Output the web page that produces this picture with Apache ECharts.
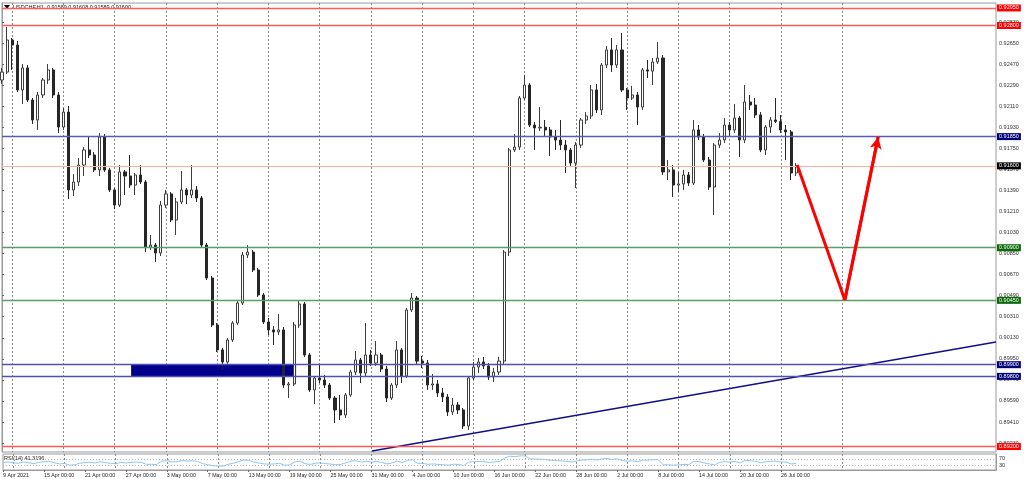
<!DOCTYPE html>
<html><head><meta charset="utf-8">
<script src="https://cdn.jsdelivr.net/npm/echarts@6/dist/echarts.min.js"></script>
<style>html,body{margin:0;padding:0;background:#fff}#c{width:1024px;height:479px}</style>
</head><body><div id="c"></div>
<script>
// ---------- DATA ----------
const chartTitle = 'USDCHF,H1  0.91589 0.91608 0.91589 0.91600';
const rsiTitle = 'RSI(14) 41.3196';
// time-axis labels (every 4 trading days)
const xLabels = ['9 Apr 2021','15 Apr 00:00','21 Apr 00:00','27 Apr 00:00','3 May 00:00','7 May 00:00','13 May 00:00','19 May 00:00','25 May 00:00','31 May 00:00','4 Jun 00:00','10 Jun 00:00','16 Jun 00:00','22 Jun 00:00','28 Jun 00:00','2 Jul 00:00','8 Jul 00:00','14 Jul 00:00','20 Jul 00:00','26 Jul 00:00'];
const barsPerLabel = 8;          // half-day bars between labels
const totalSlots = 195;          // bars incl. empty future space
const weekStarts = [2,12,22,32,42,52,62,72,82,92,102,112,122,132,142,152,164];
// half-day candles: [open, close, low, high]
const candles = [
[0.92334,0.92402,0.92300,0.92437],[0.92402,0.92676,0.92385,0.92787],[0.92676,0.92633,0.92420,0.92693],[0.92633,0.92249,0.92231,0.92667],
[0.92249,0.92437,0.92129,0.92471],[0.92437,0.92163,0.92146,0.92462],[0.92163,0.91992,0.91958,0.92180],[0.91992,0.92206,0.91907,0.92231],
[0.92206,0.92334,0.92180,0.92351],[0.92334,0.92420,0.92300,0.92471],[0.92420,0.92206,0.92180,0.92437],[0.92206,0.91932,0.91881,0.92231],
[0.91932,0.92060,0.91907,0.92095],[0.92060,0.91394,0.91317,0.92112],[0.91394,0.91462,0.91342,0.91530],[0.91462,0.91607,0.91428,0.91667],
[0.91607,0.91736,0.91513,0.91761],[0.91736,0.91693,0.91667,0.91847],[0.91693,0.91565,0.91548,0.91718],[0.91565,0.91847,0.91513,0.91881],
[0.91847,0.91565,0.91548,0.91872],[0.91565,0.91394,0.91376,0.91582],[0.91394,0.91265,0.91231,0.91411],[0.91265,0.91548,0.91248,0.91607],
[0.91548,0.91513,0.91351,0.91565],[0.91513,0.91436,0.91411,0.91693],[0.91436,0.91522,0.91351,0.91539],[0.91522,0.91462,0.91445,0.91607],
[0.91462,0.90906,0.90863,0.91479],[0.90906,0.90923,0.90880,0.91009],[0.90923,0.90855,0.90778,0.90940],[0.90855,0.91265,0.90829,0.91299],
[0.91265,0.91360,0.91240,0.91394],[0.91360,0.91137,0.91120,0.91376],[0.91137,0.91291,0.91009,0.91325],[0.91291,0.91394,0.91274,0.91556],
[0.91394,0.91351,0.91274,0.91411],[0.91351,0.91394,0.91325,0.91607],[0.91394,0.91325,0.91291,0.91428],[0.91325,0.90923,0.90906,0.91342],
[0.90923,0.90641,0.90624,0.90940],[0.90641,0.90239,0.90222,0.90658],[0.90239,0.90026,0.90008,0.90256],[0.90026,0.89923,0.89855,0.90043],
[0.89923,0.90111,0.89906,0.90128],[0.90111,0.90256,0.90094,0.90273],[0.90256,0.90427,0.90239,0.90444],[0.90427,0.90838,0.90410,0.90863],
[0.90838,0.90863,0.90812,0.90923],[0.90863,0.90710,0.90692,0.90880],[0.90710,0.90496,0.90479,0.90727],[0.90496,0.90265,0.90248,0.90513],
[0.90265,0.90197,0.90154,0.90299],[0.90197,0.90180,0.90068,0.90231],[0.90180,0.90197,0.90154,0.90333],[0.90197,0.89726,0.89701,0.90222],
[0.89726,0.89735,0.89615,0.89752],[0.89735,0.90239,0.89718,0.90265],[0.90239,0.90419,0.90214,0.90453],[0.90419,0.89983,0.89966,0.90436],
[0.89983,0.89684,0.89667,0.90000],[0.89684,0.89786,0.89564,0.89803],[0.89786,0.89769,0.89743,0.89906],[0.89769,0.89726,0.89701,0.89812],
[0.89726,0.89615,0.89598,0.89743],[0.89615,0.89513,0.89401,0.89632],[0.89513,0.89470,0.89427,0.89641],[0.89470,0.89641,0.89444,0.89658],
[0.89641,0.89837,0.89624,0.89855],[0.89837,0.89940,0.89812,0.90017],[0.89940,0.89829,0.89743,0.89957],[0.89829,0.89983,0.89803,0.90256],
[0.89983,0.89914,0.89889,0.90026],[0.89914,0.89983,0.89889,0.90102],[0.89983,0.89863,0.89837,0.90000],[0.89863,0.89615,0.89581,0.89889],
[0.89615,0.89726,0.89598,0.89743],[0.89726,0.90026,0.89701,0.90102],[0.90026,0.89803,0.89743,0.90043],[0.89803,0.90368,0.89786,0.90385],
[0.90368,0.90470,0.90350,0.90513],[0.90470,0.89931,0.89906,0.90487],[0.89931,0.89914,0.89872,0.89974],[0.89914,0.89726,0.89684,0.89940],
[0.89726,0.89735,0.89684,0.89820],[0.89735,0.89658,0.89624,0.89769],[0.89658,0.89624,0.89581,0.89701],[0.89624,0.89496,0.89461,0.89650],
[0.89496,0.89555,0.89470,0.89615],[0.89555,0.89513,0.89478,0.89581],[0.89513,0.89376,0.89350,0.89530],[0.89376,0.89786,0.89342,0.89803],
[0.89786,0.89880,0.89769,0.89923],[0.89880,0.89923,0.89829,0.89957],[0.89923,0.89889,0.89863,0.89966],[0.89889,0.89795,0.89769,0.89914],
[0.89795,0.89837,0.89752,0.89872],[0.89837,0.89931,0.89812,0.89966],[0.89931,0.90863,0.89906,0.90880],[0.90863,0.91736,0.90829,0.91753],
[0.91736,0.91761,0.91718,0.91872],[0.91761,0.92180,0.91736,0.92197],[0.92180,0.92291,0.92163,0.92377],[0.92291,0.91949,0.91932,0.92308],
[0.91949,0.91924,0.91736,0.91975],[0.91924,0.91930,0.91898,0.92103],[0.91930,0.91907,0.91856,0.91992],[0.91907,0.91847,0.91685,0.91932],
[0.91847,0.91821,0.91736,0.91907],[0.91821,0.91778,0.91736,0.91992],[0.91778,0.91736,0.91539,0.91821],[0.91736,0.91624,0.91590,0.91753],
[0.91624,0.91778,0.91411,0.91804],[0.91778,0.91992,0.91753,0.92009],[0.91992,0.92026,0.91958,0.92060],[0.92026,0.92249,0.92001,0.92291],
[0.92249,0.92078,0.92052,0.92300],[0.92078,0.92462,0.92035,0.92479],[0.92462,0.92591,0.92437,0.92625],[0.92591,0.92462,0.92403,0.92693],
[0.92462,0.92591,0.92437,0.92633],[0.92591,0.92249,0.92231,0.92736],[0.92249,0.92180,0.92078,0.92266],[0.92180,0.92206,0.92163,0.92283],
[0.92206,0.92103,0.91949,0.92231],[0.92103,0.92420,0.92078,0.92437],[0.92420,0.92410,0.92351,0.92505],[0.92410,0.92488,0.92291,0.92522],
[0.92488,0.92522,0.92471,0.92659],[0.92522,0.91548,0.91522,0.92548],[0.91548,0.91565,0.91479,0.91650],[0.91565,0.91436,0.91334,0.91607],
[0.91436,0.91445,0.91376,0.91548],[0.91445,0.91522,0.91394,0.91565],[0.91522,0.91453,0.91428,0.91548],[0.91453,0.91907,0.91436,0.91992],
[0.91907,0.91847,0.91821,0.91949],[0.91847,0.91650,0.91633,0.91872],[0.91650,0.91419,0.91394,0.91676],[0.91419,0.91778,0.91180,0.91795],
[0.91778,0.91821,0.91753,0.91881],[0.91821,0.91949,0.91795,0.92009],[0.91949,0.91907,0.91856,0.91975],[0.91907,0.92009,0.91881,0.92129],
[0.92009,0.91821,0.91676,0.92026],[0.91821,0.92146,0.91795,0.92291],[0.92146,0.92120,0.92078,0.92206],[0.92120,0.92035,0.92009,0.92180],
[0.92035,0.91736,0.91718,0.92060],[0.91736,0.91932,0.91693,0.91949],[0.91932,0.91992,0.91881,0.92018],[0.91992,0.91980,0.91966,0.92180],
[0.91980,0.91907,0.91881,0.92035],[0.91907,0.91890,0.91650,0.91949],[0.91890,0.91539,0.91479,0.91907],[0.91539,0.91600,0.91513,0.91624]
];
const rsiValues = [46,50,44,42, 50,45,40,47,52, 54,46,38,41, 30,33, 42,46,48,44,52, 46,42,39,48,44,47, 50,48,36,35,34,55,
58,50,52, 60,55,58,54, 40,33,27,25,24, 36,42,52,62,60, 50,44,38,36, 38,42,30,32, 50,55,40,35, 42,44,40,37, 33,35,45,55,
58,50,55,50, 54,47,38,44, 56,46,60,64, 42,41,36,38, 35,33,30,36,34,28, 50,52,53,52,48,50,53, 75,86,84,88, 88,70,68,68,
65,60,59,57,55, 50,55,62,63,68, 62,70,72,66,70, 58,56,57,52, 62,62,64,65, 32,33,30,32,35,33, 55,52,44,38,32,
48,52,50,54,44, 60,58,55,45,52, 54,55,50,49,38,41.32];
const rsiLevels = [70, 30];
const yTicks = [0.92830,0.92650,0.92470,0.92290,0.92110,0.91930,0.91750,0.91570,0.91390,0.91210,0.91030,0.90850,0.90670,0.90490,0.90310,0.90130,0.89950,0.89770,0.89590,0.89410,0.89230];
const redLevels = [0.92950, 0.92800, 0.89200];
const blueLevels = [0.91850];
const greenLevels = [0.90900, 0.90450];
const zoneLevels = [0.89900, 0.89800];
const bidPrice = 0.91600;
const zone = {from: 25.2, to: 57.4, top: 0.89900, bottom: 0.89800};
const trendPoints = [[72.2, 0.89162], [194, 0.90094]];
const arrowPath = [[155.2, 0.91607], [164.5, 0.90453], [171.0, 0.91847]];
const priceMin = 0.891534, priceMax = 0.929924;

// ---------- CHART ----------
const FONT = '"Liberation Sans", Arial, sans-serif';
const cats = Array.from({length: totalSlots}, (_, i) => String(i));
const weekSet = new Set(weekStarts);
const chart = echarts.init(document.getElementById('c'), null, {renderer: 'canvas'});

function lvl(v, lineColor, boxColor, width) {
  return {
    yAxis: v,
    lineStyle: {color: lineColor, width: width || 1.4, type: 'solid'},
    label: {show: true, position: 'end', formatter: v.toFixed(5), color: '#fff',
      backgroundColor: boxColor, padding: [1, 2, 0, 2], fontSize: 5.5, fontFamily: FONT, distance: 1}
  };
}
const levelLines = [];
redLevels.forEach(v => levelLines.push(lvl(v, '#ff5a5a', '#ff0000')));
blueLevels.forEach(v => levelLines.push(lvl(v, '#5a5ab4', '#00007a')));
greenLevels.forEach(v => levelLines.push(lvl(v, '#5c9f5c', '#0a6a0a')));
zoneLevels.forEach(v => levelLines.push(lvl(v, '#5050b0', '#00007a')));
levelLines.push(lvl(bidPrice, '#f6b49a', '#000000', 1.2));

const splitDash = {show: true, interval: (i) => weekSet.has(i), lineStyle: {color: '#8a8a8a', type: [2, 2], width: 1}};

chart.setOption({
  animation: false,
  backgroundColor: '#ffffff',
  grid: [
    {left: 2, right: 28, top: 3, height: 449, show: true, borderColor: '#9a9a9a', borderWidth: 1, backgroundColor: '#fff'},
    {left: 2, right: 28, top: 454, height: 16, show: true, borderColor: '#9a9a9a', borderWidth: 1, backgroundColor: '#fff'}
  ],
  xAxis: [
    {type: 'category', gridIndex: 0, data: cats, boundaryGap: false,
      axisLine: {show: false}, axisTick: {show: false}, axisLabel: {show: false}, splitLine: splitDash},
    {type: 'value', gridIndex: 0, min: 0, max: totalSlots - 1, show: false},
    {type: 'category', gridIndex: 1, data: cats, boundaryGap: false,
      axisLine: {show: true, lineStyle: {color: '#9a9a9a'}},
      axisTick: {show: true, length: 2, interval: (i) => i % barsPerLabel === 0 && i / barsPerLabel < xLabels.length, lineStyle: {color: '#666'}},
      axisLabel: {show: true, interval: (i) => i % barsPerLabel === 0 && i / barsPerLabel < xLabels.length,
        formatter: (v, i) => xLabels[Math.round(i / barsPerLabel)] || '',
        align: 'left', fontSize: 5.3, fontFamily: FONT, color: '#222', margin: 3},
      splitLine: splitDash}
  ],
  yAxis: [
    {type: 'value', gridIndex: 0, position: 'right', min: priceMin, max: priceMax, scale: true,
      axisLine: {show: true, lineStyle: {color: '#9a9a9a'}},
      axisTick: {show: true, length: 2, customValues: yTicks, lineStyle: {color: '#666'}},
      axisLabel: {show: true, customValues: yTicks, formatter: (v) => v.toFixed(5), fontSize: 5.5, fontFamily: FONT, color: '#333', margin: 3},
      splitLine: {show: false}},
    {type: 'value', gridIndex: 1, position: 'right', min: 0, max: 100,
      axisLine: {show: true, lineStyle: {color: '#9a9a9a'}},
      axisTick: {show: false},
      axisLabel: {show: true, customValues: rsiLevels, fontSize: 5.5, fontFamily: FONT, color: '#333', margin: 3},
      splitLine: {show: false}}
  ],
  series: [
    {type: 'line', xAxisIndex: 1, yAxisIndex: 0, data: trendPoints, showSymbol: false, symbol: 'none',
      lineStyle: {color: '#10108a', width: 1.6}, z: 4,
      markLine: {silent: true, symbol: ['none', 'none'], animation: false, precision: 5, data: levelLines},
      markArea: {silent: true, itemStyle: {color: '#00008c', opacity: 1},
        data: [[{coord: [zone.from, zone.top]}, {coord: [zone.to, zone.bottom]}]]}},
    {type: 'candlestick', xAxisIndex: 0, yAxisIndex: 0, data: candles, barWidth: 2.6, z: 3,
      itemStyle: {color: '#ffffff', color0: '#262626', borderColor: '#3c3c3c', borderColor0: '#262626', borderWidth: 1}},
    {type: 'line', xAxisIndex: 1, yAxisIndex: 0, data: arrowPath.slice(0, 2), showSymbol: false, symbol: 'none',
      lineStyle: {color: '#ff0000', width: 3}, z: 6},
    {type: 'line', xAxisIndex: 1, yAxisIndex: 0, data: arrowPath.slice(1), showSymbol: false, symbol: 'none',
      lineStyle: {color: '#ff0000', width: 3}, z: 6,
      markLine: {silent: true, symbol: ['none', 'arrow'], symbolSize: [9, 12], precision: 5,
        lineStyle: {color: '#ff0000', width: 3, type: 'solid'}, label: {show: false},
        data: [[{coord: arrowPath[1]}, {coord: arrowPath[2]}]]}},
    {type: 'line', xAxisIndex: 2, yAxisIndex: 1, data: rsiValues, showSymbol: false, symbol: 'none',
      lineStyle: {color: '#8cc8f4', width: 1},
      markLine: {silent: true, symbol: ['none', 'none'], label: {show: false},
        lineStyle: {color: '#b5b5b5', type: [1, 2], width: 1},
        data: rsiLevels.map(v => ({yAxis: v}))}}
  ],
  graphic: [
    {type: 'polygon', shape: {points: [[4, 5], [10, 5], [7, 9]]}, style: {fill: '#000'}},
    {type: 'text', left: 13, top: 4, style: {text: chartTitle, fontSize: 5.5, fontFamily: FONT, fill: '#222'}},
    {type: 'text', left: 4, top: 455, style: {text: rsiTitle, fontSize: 5.5, fontFamily: FONT, fill: '#222'}}
  ]
});
</script></body></html>
